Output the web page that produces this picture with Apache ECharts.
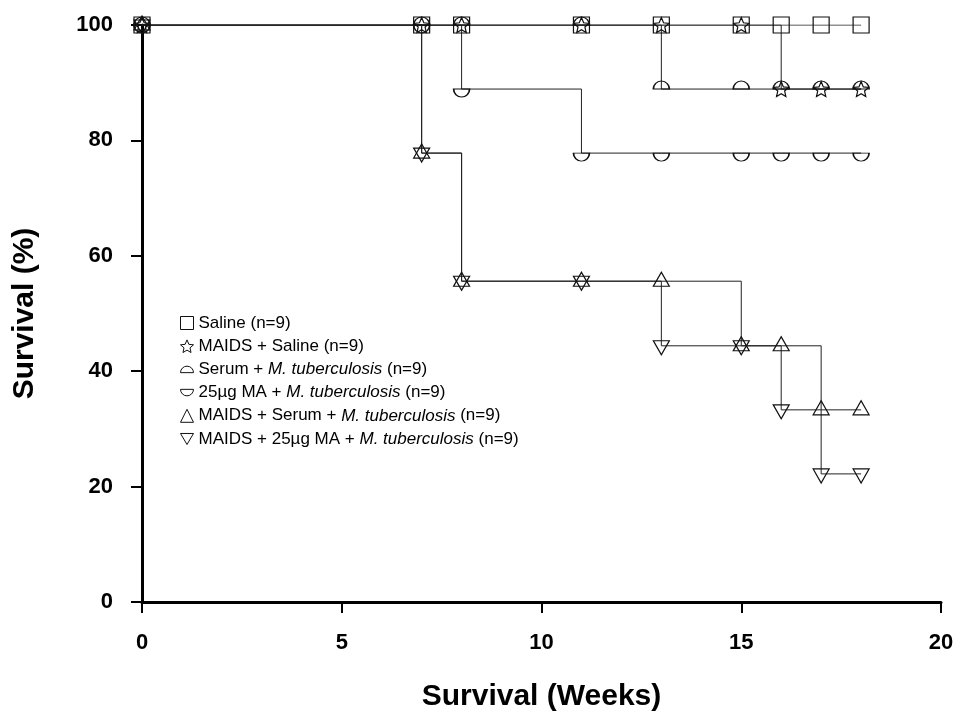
<!DOCTYPE html>
<html>
<head>
<meta charset="utf-8">
<script src="https://cdn.jsdelivr.net/npm/echarts@6/dist/echarts.min.js"></script>
<style>
  html, body { margin: 0; padding: 0; background: #fff; }
  #chart { width: 958px; height: 717px; }
</style>
</head>
<body>
<div id="chart"></div>
<script>
// weeks where a value is plotted
var weeks = [0, 7, 8, 11, 13, 15, 16, 17, 18];

var saline         = [100, 100, 100, 100, 100, 100, 100, 100, 100];
var maidsSaline    = [100, 100, 100, 100, 100, 100, 88.9, 88.9, 88.9];
var serumMtb       = [100, 100, 100, 100, 88.9, 88.9, 88.9, 88.9, 88.9];
var maMtb          = [100, 100, 88.9, 77.8, 77.8, 77.8, 77.8, 77.8, 77.8];
var maidsSerumMtb  = [100, 77.8, 55.6, 55.6, 55.6, 44.4, 44.4, 33.3, 33.3];
var maidsMaMtb     = [100, 77.8, 55.6, 55.6, 44.4, 44.4, 33.3, 22.2, 22.2];

var names = [
  'Saline (n=9)',
  'MAIDS + Saline (n=9)',
  'Serum + M. tuberculosis (n=9)',
  '25\u00b5g MA + M. tuberculosis (n=9)',
  'MAIDS + Serum + M. tuberculosis (n=9)',
  'MAIDS + 25\u00b5g MA + M. tuberculosis (n=9)'
];

var FONT = 'Liberation Sans, Arial, sans-serif';
var STAR = 'path://M10,0 L12.9,6.9 L20,7.6 L14.6,12.3 L16.2,19.5 L10,15.8 L3.8,19.5 L5.4,12.3 L0,7.6 L7.1,6.9 Z';
var DOME = 'path://M0,10 A10,10 0 0 1 20,10 Z';
var BOWL = 'path://M0,0 A10,10 0 0 0 20,0 Z';
var TRI_DOWN = 'path://M0,0 L20,0 L10,17 Z';

function pairs(vals) {
  var out = [];
  for (var i = 0; i < weeks.length; i++) out.push([weeks[i], vals[i]]);
  return out;
}

function mkSeries(name, vals, symbol, size, offset) {
  return {
    name: name,
    type: 'line',
    step: 'end',
    data: pairs(vals),
    symbol: symbol,
    symbolSize: size,
    symbolOffset: offset || [0, 0],
    showAllSymbol: true,
    lineStyle: { color: '#222', width: 1 },
    itemStyle: { color: 'transparent', borderColor: '#111', borderWidth: 1.2 },
    emphasis: { disabled: true },
    animation: false
  };
}

var series = [
  mkSeries(names[0], saline, 'rect', 16),
  mkSeries(names[1], maidsSaline, STAR, 15),
  mkSeries(names[2], serumMtb, DOME, [16, 8], [0, -4]),
  mkSeries(names[3], maMtb, BOWL, [16, 8], [0, 4]),
  mkSeries(names[4], maidsSerumMtb, 'triangle', [16, 14], [0, -2]),
  mkSeries(names[5], maidsMaMtb, TRI_DOWN, [16, 14], [0, 2])
];

function legendFmt(name) {
  var k = name.indexOf('M. tuberculosis');
  if (k < 0) return '{n|' + name + '}';
  return '{n|' + name.slice(0, k) + '}{i|M. tuberculosis}{n|' + name.slice(k + 15) + '}';
}

var chart = echarts.init(document.getElementById('chart'));
chart.setOption({
  backgroundColor: '#fff',
  animation: false,
  grid: { left: 142, right: 17, top: 25, bottom: 114 },
  legend: {
    orient: 'vertical',
    left: 175,
    top: 308,
    itemWidth: 13,
    itemHeight: 13,
    itemGap: 3.2,
    selectedMode: false,
    data: [
      { name: names[0], icon: 'rect' },
      { name: names[1], icon: STAR },
      { name: names[2], icon: DOME },
      { name: names[3], icon: BOWL },
      { name: names[4], icon: 'triangle' },
      { name: names[5], icon: TRI_DOWN }
    ],
    itemStyle: { color: 'transparent', borderColor: '#111', borderWidth: 1 },
    lineStyle: { opacity: 0 },
    formatter: legendFmt,
    textStyle: {
      color: '#000',
      fontSize: 17,
      fontFamily: FONT,
      lineHeight: 20,
      rich: {
        n: { fontSize: 17, color: '#000', fontFamily: FONT },
        i: { fontSize: 17, color: '#000', fontStyle: 'italic', fontFamily: FONT }
      }
    }
  },
  xAxis: {
    type: 'value',
    min: 0,
    max: 20,
    interval: 5,
    name: 'Survival (Weeks)',
    nameLocation: 'middle',
    nameGap: 80,
    nameTextStyle: { color: '#000', fontSize: 30, fontWeight: 'bold', fontFamily: FONT },
    axisLine: { lineStyle: { color: '#000', width: 3 } },
    axisTick: { length: 11, lineStyle: { color: '#000', width: 2 } },
    axisLabel: { margin: 30, color: '#000', fontSize: 22, fontWeight: 'bold', fontFamily: FONT },
    splitLine: { show: false }
  },
  yAxis: {
    type: 'value',
    min: 0,
    max: 100,
    interval: 20,
    name: 'Survival (%)',
    nameLocation: 'middle',
    nameGap: 102,
    nameTextStyle: { color: '#000', fontSize: 30, fontWeight: 'bold', fontFamily: FONT },
    axisLine: { show: true, lineStyle: { color: '#000', width: 3 } },
    axisTick: { show: true, length: 11, lineStyle: { color: '#000', width: 2 } },
    axisLabel: { margin: 29, color: '#000', fontSize: 22, fontWeight: 'bold', fontFamily: FONT },
    splitLine: { show: false }
  },
  series: series
});
</script>
</body>
</html>
